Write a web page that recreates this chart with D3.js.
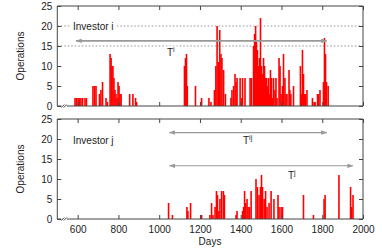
<!DOCTYPE html>
<html>
<head>
<meta charset="utf-8">
<script src="https://cdn.jsdelivr.net/npm/d3@7"></script>
<style>
  body { margin: 0; background: #fff; }
  text { font-family: "Liberation Sans", Arial, sans-serif; font-size: 10px; fill: #222; }
</style>
</head>
<body>
<div id="chart"></div>
<script>
// operations per day, investor i
var daysI = [587, 594, 602, 609, 616, 624, 636, 643,
  675, 683, 690, 707, 714, 722, 739, 746,
  759, 764, 768, 773, 778, 783, 788, 793, 798, 803, 808, 813,
  855, 871, 884, 889,
  1124, 1129, 1134, 1138, 1178, 1208, 1244, 1254,
  1271, 1278, 1284, 1290, 1297, 1303, 1308, 1316, 1325,
  1352, 1357, 1365, 1372, 1377, 1382, 1397, 1404, 1409, 1421,
  1446, 1453, 1463, 1468, 1473, 1477, 1482, 1487, 1492, 1497, 1502, 1507, 1512, 1517,
  1522, 1527, 1532, 1537, 1541, 1546, 1551, 1556, 1561, 1568, 1573, 1578,
  1588, 1593, 1598, 1605, 1610, 1617, 1622, 1627, 1637, 1641, 1646, 1659,
  1693, 1698, 1703, 1708, 1713, 1718, 1725, 1752, 1760, 1765, 1777, 1782, 1789,
  1806, 1811, 1816, 1821, 1829];
var opsI = [2, 2, 2, 2, 2, 2, 2, 2,
  5, 5, 5, 3, 4, 6, 2, 1,
  13, 12, 10, 10, 7, 4, 3, 2, 6, 5, 3, 3,
  3, 3, 2, 1,
  10, 12, 13, 5, 5, 2, 2, 1,
  4, 10, 20, 11, 19, 13, 12, 9, 3,
  2, 4, 5, 8, 6, 7, 7, 2, 7, 7,
  7, 7, 15, 18, 20, 16, 14, 10, 12, 22, 10, 8, 12, 10,
  7, 7, 5, 7, 3, 9, 7, 2, 7, 4, 7, 2,
  12, 10, 3, 5, 13, 7, 3, 3, 9, 4, 3, 5,
  10, 3, 14, 8, 3, 3, 4, 2, 1, 1, 3, 3, 4,
  6, 17, 13, 6, 5];

// operations per day, investor j
var daysJ = [1046, 1065, 1136, 1141, 1154, 1208, 1249, 1257, 1264, 1274, 1281, 1286,
  1293, 1298, 1306, 1315, 1320, 1377, 1382, 1409, 1414, 1419, 1424, 1431, 1436, 1443, 1451,
  1475, 1482, 1490, 1497, 1502, 1507, 1515, 1522, 1529, 1539, 1549, 1563,
  1583, 1588, 1598, 1605, 1708, 1757, 1809, 1814, 1882, 1939, 1944, 1951];
var opsJ = [4, 1, 3, 2, 4, 1, 1, 4, 1, 3, 7, 6,
  2, 5, 7, 7, 6, 1, 2, 2, 3, 7, 4, 5, 3, 3, 7,
  10, 8, 6, 8, 11, 8, 5, 7, 3, 4, 7, 5,
  6, 3, 3, 3, 6, 1, 5, 6, 11, 8, 3, 6];

// activity spans (arrows)
var spanPanel = [0, 1, 1];
var spanStart = [592, 1050, 1050];
var spanEnd = [1822, 1822, 1951];
var spanLevel = [16.3, 21.6, 13.3];
var spanSup = ["i", "ij", "j"];

var xTicks = [600, 800, 1000, 1200, 1400, 1600, 1800, 2000];
var yTicks = [0, 5, 10, 15, 20, 25];
var gridLevels = [15, 20];
var investorNames = ["Investor i", "Investor j"];

var svgWidth = 382;
var svgHeight = 250;
var panelH = 100;
var panelTops = [6, 119];
var axisColor = "#444";

var svg = d3.select("#chart")
  .append("svg")
  .attr("width", svgWidth)
  .attr("height", svgHeight);

var xScale = d3.scaleLinear().domain([500, 2000]).range([57.3, 363]);
var yScale = d3.scaleLinear().domain([0, 25]).range([panelH, 0]);

var defs = svg.append("defs");
defs.append("marker")
  .attr("id", "head")
  .attr("viewBox", "0 0 8 6")
  .attr("refX", 7.5).attr("refY", 3)
  .attr("markerWidth", 6).attr("markerHeight", 4.5)
  .attr("markerUnits", "userSpaceOnUse")
  .attr("orient", "auto-start-reverse")
  .append("path")
  .attr("d", "M0,0 L8,3 L0,6 Z")
  .attr("fill", "#999");

// "T" with a superscript
function spanText(t, sup) {
  t.append("tspan").text("T");
  t.append("tspan")
    .attr("dy", "-0.45em")
    .style("font-size", "7px")
    .text(sup);
}

// label with white box behind
function boxedText(g, x, y, main, sup) {
  var t = g.append("text")
    .attr("x", x)
    .attr("y", y)
    .attr("dy", "0.35em")
    .attr("fill", "#222");
  if (sup) spanText(t, sup);
  else t.text(main);
  var bb = t.node().getBBox();
  g.insert("rect", function () { return t.node(); })
    .attr("x", bb.x - 3)
    .attr("y", bb.y)
    .attr("width", bb.width + 6)
    .attr("height", bb.height)
    .attr("fill", "#fff");
  return t;
}

var panelData = [[daysI, opsI], [daysJ, opsJ]];

panelData.forEach(function (pd, p) {
  var g = svg.append("g").attr("transform", `translate(0, ${panelTops[p]})`);
  var x0 = xScale.range()[0], x1 = xScale.range()[1];

  // dotted reference lines (top panel only)
  if (p === 0) {
    g.selectAll(".grid")
      .data(gridLevels)
      .enter()
      .append("line")
      .attr("x1", x0).attr("x2", x1)
      .attr("y1", d => yScale(d)).attr("y2", d => yScale(d))
      .attr("stroke", "#777")
      .attr("stroke-width", 0.8)
      .attr("stroke-dasharray", "1.5,2");
  }

  // bars
  var bars = d3.zip(pd[0], pd[1]);
  g.selectAll(".bar")
    .data(bars)
    .enter()
    .append("rect")
    .attr("x", d => xScale(d[0]) - 0.8)
    .attr("width", 1.6)
    .attr("y", d => yScale(d[1]))
    .attr("height", d => panelH - yScale(d[1]))
    .attr("fill", "#ff0000");

  // axes
  var leftAxis = d3.axisLeft(yScale).tickValues(yTicks).tickSizeInner(-4).tickSizeOuter(0).tickPadding(5);
  var rightAxis = d3.axisRight(yScale).tickValues(yTicks).tickSizeInner(-4).tickSizeOuter(0).tickFormat("");
  var topAxis = d3.axisTop(xScale).tickValues(xTicks).tickSizeInner(-4).tickSizeOuter(0).tickFormat("");
  var bottomAxis = d3.axisBottom(xScale).tickValues(xTicks).tickSizeInner(-4).tickSizeOuter(0)
    .tickPadding(7).tickFormat(d3.format("d"));
  if (p === 0) bottomAxis.tickFormat("");

  var axes = [
    g.append("g").attr("transform", `translate(${x0}, 0)`).call(leftAxis),
    g.append("g").attr("transform", `translate(${x1}, 0)`).call(rightAxis),
    g.append("g").attr("transform", "translate(0, 0)").call(topAxis),
    g.append("g").attr("transform", `translate(0, ${panelH})`).call(bottomAxis)
  ];
  axes.forEach(function (a) {
    a.select(".domain").remove();
    a.selectAll(".tick line").attr("stroke", axisColor);
    a.selectAll(".tick text").attr("fill", "#222").style("font-size", "10px")
      .style("font-family", '"Liberation Sans", Arial, sans-serif');
  });

  // frame with broken x axis
  var frame = g.append("g").attr("stroke", axisColor).attr("stroke-width", 1).attr("fill", "none");
  frame.append("line").attr("x1", x0).attr("x2", x0).attr("y1", 0).attr("y2", panelH);
  frame.append("line").attr("x1", x1).attr("x2", x1).attr("y1", 0).attr("y2", panelH);
  frame.append("line").attr("x1", x0).attr("x2", x1).attr("y1", 0).attr("y2", 0);
  frame.append("line").attr("x1", x0).attr("x2", x0 + 4).attr("y1", panelH).attr("y2", panelH);
  frame.append("line").attr("x1", x0 + 9.5).attr("x2", x1).attr("y1", panelH).attr("y2", panelH);
  frame.append("line").attr("x1", x0 + 4).attr("x2", x0 + 7).attr("y1", panelH + 1.5).attr("y2", panelH - 1.5);
  frame.append("line").attr("x1", x0 + 6.5).attr("x2", x0 + 9.5).attr("y1", panelH + 1.5).attr("y2", panelH - 1.5);

  // investor name
  boxedText(g, 73, p === 0 ? yScale(20) : 21, investorNames[p]);

  // y label
  g.append("text")
    .attr("transform", `translate(24, ${panelH / 2}) rotate(-90)`)
    .attr("text-anchor", "middle")
    .text("Operations");
});

// span arrows and labels
var spanLabelX = [167, 243, 288];
var spanLabelY = [46, 21, 56];
spanStart.forEach(function (s, k) {
  var g = svg.append("g").attr("transform", `translate(0, ${panelTops[spanPanel[k]]})`);
  if (k === 0) {
    boxedText(g, spanLabelX[k], spanLabelY[k], "T", spanSup[k]);
  } else {
    g.append("text").attr("x", spanLabelX[k]).attr("y", spanLabelY[k]).attr("dy", "0.35em")
      .attr("fill", "#222")
      .call(t => spanText(t, spanSup[k]));
  }
  g.append("line")
    .attr("x1", xScale(s)).attr("x2", xScale(spanEnd[k]))
    .attr("y1", yScale(spanLevel[k])).attr("y2", yScale(spanLevel[k]))
    .attr("stroke", "#999")
    .attr("stroke-width", k === 0 ? 1.8 : 1.1)
    .attr("marker-start", "url(#head)")
    .attr("marker-end", "url(#head)");
});

// x label
svg.append("text")
  .attr("x", 210)
  .attr("y", 245)
  .attr("text-anchor", "middle")
  .text("Days");
</script>
</body>
</html>
